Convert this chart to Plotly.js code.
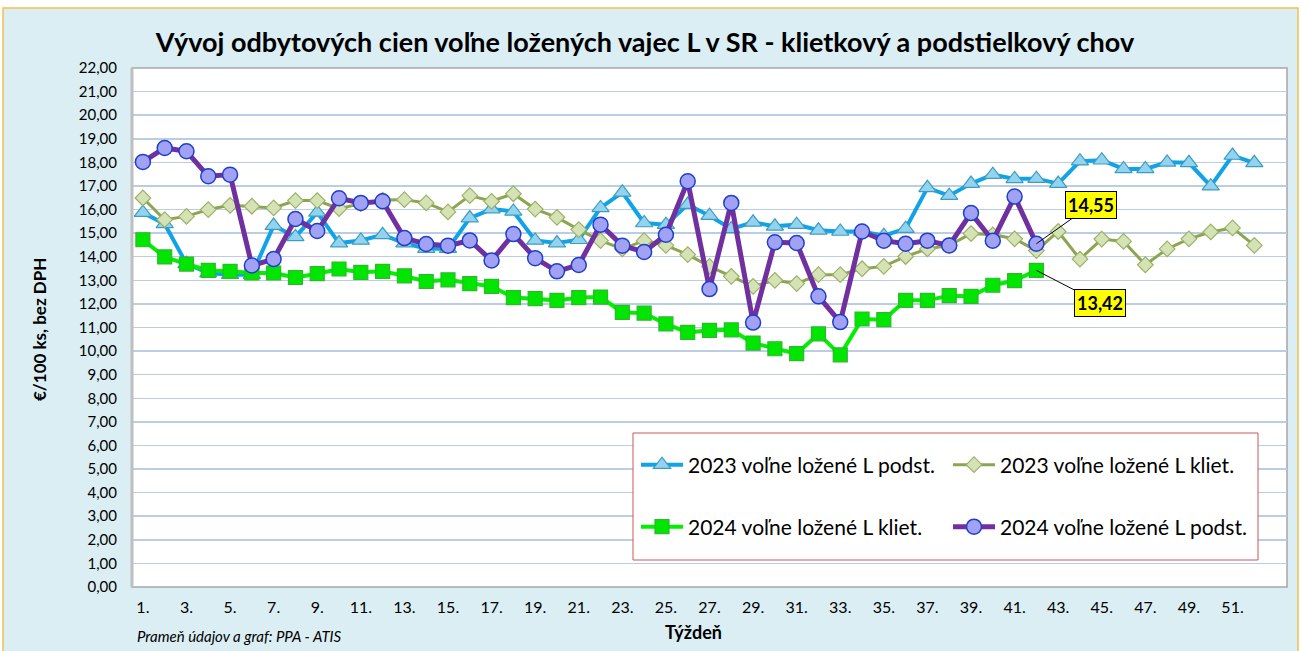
<!DOCTYPE html>
<html>
<head>
<meta charset="utf-8">
<script src="https://cdn.plot.ly/plotly-3.0.1.min.js"></script>
<style>
html,body{margin:0;padding:0;background:#ffffff;}
#chart{width:1301px;height:651px;}
</style>
</head>
<body>
<div id="chart"></div>
<script>
// ---- data ----
var weeks2023 = [];
for (var i = 1; i <= 52; i++) weeks2023.push(i);
var weeks2024 = weeks2023.slice(0, 42);

var tickWeeks = [1,3,5,7,9,11,13,15,17,19,21,23,25,27,29,31,33,35,37,39,41,43,45,47,49,51];
var tickLabels = ["1.","3.","5.","7.","9.","11.","13.","15.","17.","19.","21.","23.","25.","27.","29.","31.","33.","35.","37.","39.","41.","43.","45.","47.","49.","51."];

var seriesNames = ["2023 voľne ložené L podst.", "2023 voľne ložené L kliet.", "2024 voľne ložené L kliet.", "2024 voľne ložené L podst."];

var podst2023 = [15.87,15.39,13.70,13.31,13.24,13.24,15.32,14.84,15.88,14.58,
                 14.69,14.93,14.58,14.34,14.34,15.64,16.02,15.92,14.69,14.58,
                 14.72,16.07,16.73,15.43,15.36,16.21,15.74,15.18,15.46,15.29,
                 15.36,15.12,15.07,15.07,14.89,15.19,16.92,16.59,17.10,17.48,
                 17.30,17.31,17.10,18.05,18.09,17.72,17.72,18.00,17.98,16.99,
                 18.29,17.98];
var kliet2023 = [16.49,15.57,15.71,16.00,16.18,16.14,16.07,16.38,16.38,16.04,
                 16.25,16.40,16.42,16.28,15.90,16.59,16.35,16.67,16.02,15.67,
                 15.15,14.68,14.33,14.68,14.48,14.09,13.59,13.17,12.74,13.00,
                 12.86,13.24,13.24,13.49,13.59,14.01,14.33,14.48,14.98,14.93,
                 14.76,14.26,15.07,13.90,14.75,14.65,13.66,14.33,14.76,15.05,
                 15.22,14.48];
var kliet2024 = [14.72,13.99,13.69,13.42,13.38,13.31,13.31,13.12,13.28,13.48,
                 13.34,13.38,13.19,12.95,13.02,12.86,12.74,12.27,12.22,12.15,
                 12.27,12.29,11.64,11.61,11.15,10.79,10.88,10.90,10.34,10.10,
                 9.89,10.73,9.84,11.36,11.33,12.15,12.15,12.35,12.32,12.79,
                 12.99,13.42];
var podst2024 = [18.02,18.61,18.47,17.41,17.48,13.63,13.90,15.60,15.09,16.48,
                 16.28,16.35,14.79,14.54,14.47,14.69,13.84,14.96,13.94,13.38,
                 13.65,15.36,14.47,14.20,14.93,17.20,12.63,16.28,11.21,14.61,
                 14.58,12.32,11.23,15.07,14.68,14.55,14.68,14.48,15.85,14.68,
                 16.55,14.55];

var titleText = "Vývoj odbytových cien voľne ložených vajec L v SR - klietkový a podstielkový chov";
var yTitle = "€/100 ks, bez DPH";
var xTitle = "Týždeň";
var sourceText = "Prameň údajov a graf: PPA - ATIS";

// ---- geometry (pixels) ----
var W = 1301, H = 651;
var mL = 132, mR = 14, mT = 68, mB = 64;
var pw = W - mL - mR, ph = H - mT - mB;
function px2x(p){ return (p - mL) / pw; }
function px2y(p){ return (H - mB - p) / ph; }

var FONT = "Lato, 'Noto Sans', sans-serif";

function fmt(v){ return v.toFixed(2).replace('.', ','); }

var traces = [
  {
    x: weeks2023, y: podst2023, name: seriesNames[0], type: 'scatter', mode: 'lines+markers',
    line: {color: '#0FA3E8', width: 4},
    marker: {symbol: 'triangle-up', size: 15, color: '#92D3F2', line: {color: '#3E9DBA', width: 1.2}},
    legend: 'legend'
  },
  {
    x: weeks2023, y: kliet2023, name: seriesNames[1], type: 'scatter', mode: 'lines+markers',
    line: {color: '#8EA550', width: 3},
    marker: {symbol: 'diamond', size: 12, color: '#D5E2B6', line: {color: '#9BB265', width: 1.2}},
    legend: 'legend'
  },
  {
    x: weeks2024, y: kliet2024, name: seriesNames[2], type: 'scatter', mode: 'lines+markers',
    line: {color: '#00F000', width: 4},
    marker: {symbol: 'square', size: 14, color: '#00E600', line: {color: '#2EB82E', width: 1.2}},
    legend: 'legend2'
  },
  {
    x: weeks2024, y: podst2024, name: seriesNames[3], type: 'scatter', mode: 'lines+markers',
    line: {color: '#7030A0', width: 5},
    marker: {symbol: 'circle', size: 15, color: '#A2A2F5', line: {color: '#1F3FC8', width: 1.5}},
    legend: 'legend2'
  }
];

var lastIdx = podst2024.length - 1;

var layout = {
  width: W, height: H,
  margin: {l: mL, r: mR, t: mT, b: mB, pad: 0, autoexpand: false},
  paper_bgcolor: '#FFFFFF',
  plot_bgcolor: 'rgba(0,0,0,0)',
  separators: ',.',
  font: {family: FONT, size: 15, color: '#000000'},
  title: {
    text: '<b>' + titleText + '</b>',
    font: {family: FONT, size: 27, color: '#000000'},
    xref: 'container', yref: 'container',
    x: 645 / W, xanchor: 'center',
    y: 1 - 43 / H, yanchor: 'middle'
  },
  xaxis: {
    range: [0.5, 53.5],
    tickmode: 'array', tickvals: tickWeeks, ticktext: tickLabels,
    showgrid: false, zeroline: false, showline: false, ticks: '',
    ticklabelstandoff: 9,
    tickfont: {family: FONT, size: 16, color: '#000000'}
  },
  yaxis: {
    range: [0, 22], dtick: 1, tick0: 0, tickformat: '.2f',
    showgrid: true, gridcolor: '#BACDE3', gridwidth: 1.5,
    zeroline: false, showline: false, ticks: '',
    ticklabelstandoff: 14,
    tickfont: {family: FONT, size: 15, color: '#000000'}
  },
  showlegend: true,
  legend: {
    orientation: 'h', x: px2x(636), xanchor: 'left', y: px2y(465), yanchor: 'middle',
    itemwidth: 42,
    entrywidth: 255, entrywidthmode: 'pixels',
    bgcolor: 'rgba(0,0,0,0)', borderwidth: 0,
    font: {family: FONT, size: 21, color: '#000000'}, traceorder: 'normal'
  },
  legend2: {
    orientation: 'h', x: px2x(636), xanchor: 'left', y: px2y(527), yanchor: 'middle',
    itemwidth: 42,
    entrywidth: 255, entrywidthmode: 'pixels',
    bgcolor: 'rgba(0,0,0,0)', borderwidth: 0,
    font: {family: FONT, size: 21, color: '#000000'}, traceorder: 'normal'
  },
  shapes: [
    {type: 'rect', xref: 'paper', yref: 'paper', layer: 'below',
     x0: px2x(3), x1: px2x(1298), y0: px2y(8), y1: px2y(660),
     fillcolor: '#DBEEF4', line: {color: '#F2C14E', width: 1.5}},
    {type: 'rect', xref: 'paper', yref: 'paper', layer: 'below',
     x0: 0, x1: 1, y0: 0, y1: 1,
     fillcolor: '#FFFFFF', line: {color: '#A6A6A6', width: 1.5}},
    {type: 'line', xref: 'paper', yref: 'paper', layer: 'above',
     x0: 0, x1: 0, y0: 0, y1: 1, line: {color: '#BFBFBF', width: 3}},
    {type: 'rect', xref: 'paper', yref: 'paper', layer: 'above',
     x0: px2x(633), x1: px2x(1258), y0: px2y(560), y1: px2y(433),
     fillcolor: '#FFFFFF', line: {color: '#C9575A', width: 1}}
  ],
  annotations: [
    {xref: 'paper', yref: 'paper', x: px2x(40), y: px2y(330), xanchor: 'center', yanchor: 'middle',
     text: '<b>' + yTitle + '</b>', textangle: -90, showarrow: false,
     font: {family: FONT, size: 17, color: '#000000'}},
    {xref: 'paper', yref: 'paper', x: px2x(693), y: px2y(632), xanchor: 'center', yanchor: 'middle',
     text: '<b>' + xTitle + '</b>', showarrow: false,
     font: {family: FONT, size: 18, color: '#000000'}},
    {xref: 'paper', yref: 'paper', x: px2x(135), y: px2y(636), xanchor: 'left', yanchor: 'middle',
     text: '<i>' + sourceText + '</i>', showarrow: false,
     font: {family: FONT, size: 15, color: '#000000'}},
    {x: weeks2024[lastIdx], y: podst2024[lastIdx], xref: 'x', yref: 'y',
     text: '<b>' + fmt(podst2024[lastIdx]) + '</b>', showarrow: true, arrowhead: 0,
     arrowwidth: 1, arrowcolor: '#000000', ax: 55, ay: -39,
     bgcolor: '#FFFF00', bordercolor: '#000000', borderwidth: 1, borderpad: 2,
     font: {family: FONT, size: 18, color: '#000000'}},
    {x: weeks2024[lastIdx], y: kliet2024[lastIdx], xref: 'x', yref: 'y',
     text: '<b>' + fmt(kliet2024[lastIdx]) + '</b>', showarrow: true, arrowhead: 0,
     arrowwidth: 1, arrowcolor: '#000000', ax: 64, ay: 33,
     bgcolor: '#FFFF00', bordercolor: '#000000', borderwidth: 1, borderpad: 2,
     font: {family: FONT, size: 18, color: '#000000'}}
  ]
};

Plotly.newPlot('chart', traces, layout, {displayModeBar: false, staticPlot: true});
</script>
</body>
</html>
